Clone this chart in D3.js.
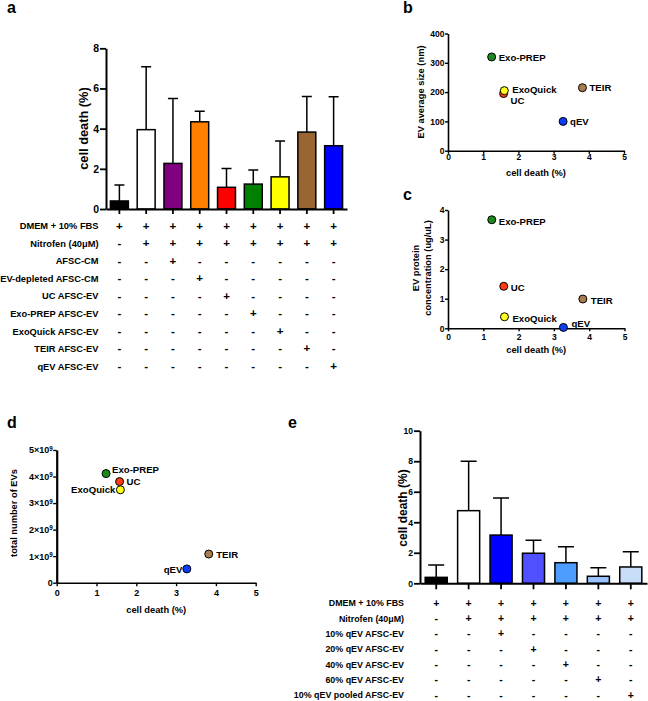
<!DOCTYPE html>
<html><head><meta charset="utf-8">
<script src="https://cdn.jsdelivr.net/npm/d3@7"></script>
<style>
body{margin:0;background:#fff}
svg{display:block}
text{font-family:"Liberation Sans",Arial,sans-serif;font-weight:bold;fill:#000}
</style>
</head><body>
<svg id="fig" width="648" height="701"></svg>
<script>
// ---------- Panel a data ----------
const groupsA = ["Control","Nitrofen","AFSC-CM","EV-depleted AFSC-CM","UC AFSC-EV","Exo-PREP AFSC-EV","ExoQuick AFSC-EV","TEIR AFSC-EV","qEV AFSC-EV"];
const cellDeathA = [0.4, 3.95, 2.27, 4.34, 1.08, 1.24, 1.6, 3.83, 3.15];
const errorA = [0.8, 3.13, 3.23, 0.52, 0.94, 0.7, 1.78, 1.77, 2.44];
const colorsA = ["#000000","#ffffff","#800080","#ff8000","#ff0000","#008000","#ffff00","#996633","#0000ff"];
const yTicksA = [0, 2, 4, 6, 8];
const rowLabelsA = ["DMEM + 10% FBS","Nitrofen (40\u03bcM)","AFSC-CM","EV-depleted AFSC-CM","UC AFSC-EV","Exo-PREP AFSC-EV","ExoQuick AFSC-EV","TEIR AFSC-EV","qEV AFSC-EV"];
const rowSignsA = ["+++++++++","-++++++++","--+------","---+-----","----+----","-----+---","------+--","-------+-","--------+"];

// ---------- Panels b, c, d data ----------
const methods = ["Exo-PREP","UC","ExoQuick","TEIR","qEV"];
const methodColors = ["#1b8a1b","#ff3a14","#ffff1a","#a87d50","#0d3cf5"];
const cellDeathM = [1.24, 1.58, 1.6, 3.82, 3.27];
const evSize = [320, 195, 205, 215, 100];
const evProtein = [3.67, 1.42, 0.39, 0.99, 0.03];
const evNumber = [4.11e9, 3.81e9, 3.5e9, 1.08e9, 0.52e9];
const xTicksScatter = [0, 1, 2, 3, 4, 5];
const yTicksB = [0, 100, 200, 300, 400];
const yTicksC = [0, 1, 2, 3, 4];
const yTicksD = [0, 1e9, 2e9, 3e9, 4e9, 5e9];

// ---------- Panel e data ----------
const groupsE = ["Control","Nitrofen","10%","20%","40%","60%","10% pooled"];
const cellDeathE = [0.39, 4.76, 3.16, 1.97, 1.35, 0.46, 1.07];
const errorE = [0.81, 3.24, 2.43, 0.85, 1.05, 0.56, 1.0];
const colorsE = ["#000000","#ffffff","#0000ff","#5050ff","#4d9dff","#9cc3ff","#c8ddf8"];
const yTicksE = [0, 2, 4, 6, 8, 10];
const rowLabelsE = ["DMEM + 10% FBS","Nitrofen (40\u03bcM)","10% qEV AFSC-EV","20% qEV AFSC-EV","40% qEV AFSC-EV","60% qEV AFSC-EV","10% qEV pooled AFSC-EV"];
const rowSignsE = ["+++++++","-++++++","--+----","---+---","----+--","-----+-","------+"];

const svg = d3.select("#fig");

function panelLabel(t, x, y) {
  svg.append("text").attr("x", x).attr("y", y).attr("font-size", 16).text(t);
}

function styleAxis(sel, domainW, tickW, fs) {
  sel.select(".domain").attr("stroke", "#000").attr("stroke-width", domainW);
  sel.selectAll(".tick line").attr("stroke", "#000").attr("stroke-width", tickW);
  sel.selectAll(".tick text").attr("font-size", fs).attr("font-family", '"Liberation Sans",Arial,sans-serif').attr("font-weight", "bold").attr("fill", "#000");
}

function barPanel(o) {
  const g = svg.append("g");
  const x = d3.scaleBand().domain(o.groups).range([o.x0, o.x1]).paddingInner(o.pin).paddingOuter(o.pin / 2);
  const y = d3.scaleLinear().domain([0, o.ymax]).range([o.y0, o.y1]);
  const cx = d => x(d) + x.bandwidth() / 2;
  g.selectAll("path.eb").data(o.groups).join("path").attr("class", "eb")
    .attr("d", (d, i) => {
      const yt = y(o.vals[i] + o.errs[i]), yb = y(o.vals[i]);
      return `M${cx(d)},${yb}V${yt}M${cx(d) - o.cap},${yt}H${cx(d) + o.cap}`;
    })
    .attr("stroke", "#000").attr("stroke-width", 1.5).attr("fill", "none");
  g.selectAll("rect.bar").data(o.groups).join("rect").attr("class", "bar")
    .attr("x", d => x(d)).attr("width", x.bandwidth())
    .attr("y", (d, i) => y(o.vals[i])).attr("height", (d, i) => y(0) - y(o.vals[i]))
    .attr("fill", (d, i) => o.colors[i]).attr("stroke", "#000").attr("stroke-width", 1.5);
  const ya = g.append("g").attr("transform", `translate(${o.x0},0)`)
    .call(d3.axisLeft(y).tickValues(o.yticks).tickSize(o.tick).tickSizeOuter(0).tickPadding(o.tpad));
  styleAxis(ya, 2, 1.8, o.tfs);
  const xa = g.append("g").attr("transform", `translate(0,${o.y0})`)
    .call(d3.axisBottom(x).tickSize(o.xtick).tickSizeOuter(0).tickFormat(""));
  styleAxis(xa, 2, 1.8, o.tfs);
  g.append("text").attr("transform", `translate(${o.ylabX},${o.ylabY}) rotate(-90)`)
    .attr("text-anchor", "middle").attr("font-size", o.ylabFs).text("cell death (%)");
  // table
  o.rowLabels.forEach((lab, r) => {
    const ry = o.row0 + r * o.rowStep;
    g.append("text").attr("x", o.labelX).attr("y", ry + 3.2).attr("text-anchor", "end")
      .attr("font-size", o.rowFs).text(lab);
    o.groups.forEach((gr, c) => {
      const s = o.rowSigns[r][c];
      g.append("text").attr("x", cx(gr)).attr("y", ry + 3.6).attr("text-anchor", "middle")
        .attr("font-size", o.signFs).text(s === "+" ? "+" : "-");
    });
  });
}

function scatterPanel(o) {
  const g = svg.append("g");
  const x = d3.scaleLinear().domain([0, 5]).range([o.x0, o.x1]);
  const y = d3.scaleLinear().domain([0, o.ymax]).range([o.y0, o.y1]);
  const ya = g.append("g").attr("transform", `translate(${o.x0},0)`)
    .call(d3.axisLeft(y).tickValues(o.yticks).tickSize(o.tick).tickSizeOuter(0).tickPadding(0.5).tickFormat(o.yfmt || d3.format("d")));
  styleAxis(ya, o.yaxW, 1.4, o.tfs);
  if (o.sup) {
    ya.selectAll(".tick text").each(function(d) {
      const t = d3.select(this);
      if (d === 0) return;
      t.text(null);
      t.append("tspan").text((d / 1e9) + "\u00d710");
      t.append("tspan").attr("font-size", o.tfs * 0.7).attr("dy", "-0.45em").text("9");
    });
  }
  const xa = g.append("g").attr("transform", `translate(0,${o.y0})`)
    .call(d3.axisBottom(x).tickValues(xTicksScatter).tickSize(o.tick).tickSizeOuter(0).tickPadding(o.xpad).tickFormat(d3.format("d")));
  styleAxis(xa, 1.6, 1.4, o.tfs);
  methods.forEach((m, i) => {
    const px = x(cellDeathM[i]), py = y(o.vals[i]);
    g.append("circle").attr("cx", px).attr("cy", py).attr("r", 4)
      .attr("fill", methodColors[i]).attr("stroke", "#000").attr("stroke-width", 1);
  });
  methods.forEach((m, i) => {
    const px = x(cellDeathM[i]), py = y(o.vals[i]);
    const off = o.offsets[m];
    g.append("text").attr("x", px + off[0]).attr("y", py + off[1])
      .attr("text-anchor", off[2] || "start").attr("font-size", o.lfs).text(m);
  });
  g.append("text").attr("x", (o.x0 + o.x1) / 2 + o.xlabDx).attr("y", o.xlabY)
    .attr("text-anchor", "middle").attr("font-size", o.alfs).text("cell death (%)");
  o.ylab.forEach((line, k) => {
    g.append("text").attr("transform", `translate(${o.ylabX[k]},${o.ylabY}) rotate(-90)`)
      .attr("text-anchor", "middle").attr("font-size", o.alfs).text(line);
  });
}

// Panel a
panelLabel("a", 7, 13);
barPanel({
  groups: groupsA, vals: cellDeathA, errs: errorA, colors: colorsA, yticks: yTicksA, ymax: 8,
  x0: 106, x1: 347, y0: 209, y1: 48.3, pin: 0.33, cap: 5, tick: 6, xtick: 5, tpad: 1, tfs: 10.5,
  ylabX: 88, ylabY: 128.5, ylabFs: 12.8,
  rowLabels: rowLabelsA, rowSigns: rowSignsA, row0: 226, rowStep: 17.55, labelX: 98.5, rowFs: 9.3, signFs: 11.5
});

// Panel b
panelLabel("b", 403, 13);
scatterPanel({
  vals: evSize, yticks: yTicksB, ymax: 400, x0: 448, x1: 624, y0: 150.7, y1: 33.5,
  tick: 3, xpad: 0.5, tfs: 8.5, yaxW: 1.6, lfs: 9.6, alfs: 9.3,
  offsets: { "Exo-PREP": [7, 4], "UC": [7, 10.5], "ExoQuick": [8, 2.5], "TEIR": [7, 3.5], "qEV": [7, 3.5] },
  xlabY: 175.5, xlabDx: 0, ylab: ["EV average size (nm)"], ylabX: [423.5], ylabY: 92
});

// Panel c
panelLabel("c", 403, 200);
scatterPanel({
  vals: evProtein, yticks: yTicksC, ymax: 4, x0: 448, x1: 624.5, y0: 328.3, y1: 210,
  tick: 3, xpad: 2.5, tfs: 8.5, yaxW: 1.6, lfs: 9.6, alfs: 9.3,
  offsets: { "Exo-PREP": [7, 5], "UC": [7, 5], "ExoQuick": [8, 5], "TEIR": [8, 5], "qEV": [8, -0.5] },
  xlabY: 352.5, xlabDx: 0, ylab: ["EV protein", "concentration (ug/uL)"], ylabX: [419, 430.5], ylabY: 268
});

// Panel d
panelLabel("d", 7, 428);
scatterPanel({
  vals: evNumber, yticks: yTicksD, ymax: 5e9, x0: 56.7, x1: 255.7, y0: 582.7, y1: 450,
  tick: 3.5, xpad: 3, tfs: 9, yaxW: 2.2, lfs: 9.6, alfs: 9.3, sup: true,
  yfmt: d => d === 0 ? "0" : String(d),
  offsets: { "Exo-PREP": [6, -1], "UC": [7, 3.5], "ExoQuick": [-5, 3.5, "end"], "TEIR": [7.5, 3.5], "qEV": [-4.5, 3.7, "end"] },
  xlabY: 612.5, xlabDx: 0, ylab: ["total number of EVs"], ylabX: [17.3], ylabY: 513
});

// Panel e
panelLabel("e", 288, 428);
barPanel({
  groups: groupsE, vals: cellDeathE, errs: errorE, colors: colorsE, yticks: yTicksE, ymax: 10,
  x0: 420, x1: 647, y0: 583.3, y1: 430.7, pin: 0.32, cap: 8, tick: 6, xtick: 6, tpad: 1, tfs: 8.6,
  ylabX: 406.5, ylabY: 508, ylabFs: 12,
  rowLabels: rowLabelsE, rowSigns: rowSignsE, row0: 603, rowStep: 15.35, labelX: 404, rowFs: 8.9, signFs: 10.5
});
</script>
</body></html>
